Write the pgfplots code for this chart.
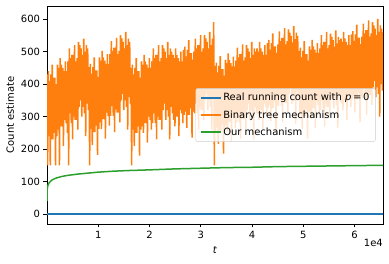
\documentclass[border=0pt]{standalone}
\usepackage{fontspec}
\setmainfont{DejaVu Sans}
\usepackage{pgfplots}
\pgfplotsset{compat=1.18}
\definecolor{tabblue}{HTML}{1F77B4}
\definecolor{taborange}{HTML}{FF7F0E}
\definecolor{tabgreen}{HTML}{2CA02C}
\begin{document}
\begin{tikzpicture}
\begin{axis}[
  scale only axis, width=336bp, height=218bp,
  xmin=0, xmax=65536, ymin=-30.5, ymax=640,
  scaled x ticks=false,
  xtick={10000,20000,30000,40000,50000,60000}, xticklabels={1,2,3,4,5,6},
  ytick={0,100,200,300,400,500,600},
  tick align=outside, tick pos=left, major tick length=3.5bp,
  /pgf/number format/assume math mode=true,
  ticklabel style={font=\fontsize{10}{12}\selectfont},
  label style={font=\fontsize{10}{12}\selectfont},
  xlabel={\textit{t}}, ylabel={Count estimate},
  xlabel style={yshift=-1bp},
  axis line style={line width=0.8bp},
  every tick/.style={black, line width=0.8bp},
  legend style={at={(rel axis cs:0.978,0.5)}, anchor=east, fill=white, fill opacity=0.8, text opacity=1, draw=black!20, rounded corners=2bp, font=\fontsize{10}{12}\selectfont, row sep=4bp, inner xsep=4bp, inner ysep=3bp},
  legend cell align=left,
  legend image code/.code={\draw[#1, line width=1.5bp] (0bp,0bp) -- (20bp,0bp);},
]
\addplot[tabblue, line width=1.5bp] coordinates {(0,0) (65536,0)};
\addlegendentry{Real running count with \textit{p}\,=\,0}
\addplot[taborange, line width=1.5bp] table[x expr=\coordindex*128, y index=0, header=false, row sep=\\]{
430\\150\\440\\240\\410\\150\\430\\230\\460\\230\\420\\250\\420\\150\\400\\240\\
460\\260\\450\\150\\480\\270\\460\\270\\450\\210\\440\\290\\470\\280\\440\\250\\
470\\150\\510\\310\\480\\280\\490\\230\\490\\300\\520\\290\\470\\290\\480\\260\\
530\\330\\520\\350\\510\\300\\490\\330\\540\\310\\500\\240\\520\\340\\510\\320\\
452\\150\\462\\262\\432\\212\\452\\252\\482\\252\\442\\272\\442\\182\\422\\262\\
482\\282\\472\\262\\502\\292\\482\\292\\472\\232\\462\\312\\492\\302\\462\\272\\
492\\302\\532\\332\\502\\302\\512\\252\\512\\322\\542\\312\\492\\312\\502\\282\\
550\\350\\540\\370\\530\\320\\510\\350\\560\\330\\520\\260\\540\\360\\530\\340\\
450\\150\\460\\260\\430\\210\\450\\250\\480\\250\\440\\270\\440\\180\\420\\260\\
470\\270\\460\\250\\490\\280\\470\\280\\460\\220\\450\\300\\480\\290\\450\\260\\
470\\280\\510\\310\\480\\280\\490\\230\\490\\300\\520\\290\\470\\290\\480\\260\\
520\\320\\510\\340\\500\\290\\480\\320\\530\\300\\490\\230\\510\\330\\500\\310\\
490\\290\\480\\270\\510\\300\\490\\300\\480\\240\\470\\320\\500\\310\\470\\280\\
505\\305\\515\\315\\485\\265\\505\\305\\535\\305\\495\\325\\495\\235\\475\\315\\
500\\310\\540\\340\\510\\310\\520\\260\\520\\330\\550\\320\\500\\320\\510\\290\\
550\\350\\540\\370\\530\\320\\510\\350\\560\\330\\520\\260\\540\\360\\590\\150\\
456\\256\\466\\266\\436\\216\\456\\256\\486\\256\\446\\276\\446\\186\\426\\266\\
474\\274\\464\\254\\494\\284\\474\\284\\464\\224\\454\\304\\484\\294\\454\\264\\
472\\282\\512\\312\\482\\282\\492\\232\\492\\302\\522\\292\\472\\292\\482\\262\\
520\\320\\510\\340\\500\\290\\480\\320\\530\\300\\490\\230\\510\\330\\500\\310\\
510\\310\\500\\290\\530\\320\\510\\320\\500\\260\\490\\340\\520\\330\\490\\300\\
526\\326\\536\\336\\506\\286\\526\\326\\556\\326\\516\\346\\516\\256\\496\\336\\
522\\332\\562\\362\\532\\332\\542\\282\\542\\352\\572\\342\\522\\342\\532\\312\\
568\\368\\558\\388\\548\\338\\528\\368\\578\\348\\538\\278\\558\\378\\548\\358\\
502\\302\\512\\312\\482\\262\\502\\302\\532\\302\\492\\322\\492\\232\\472\\312\\
516\\316\\506\\296\\536\\326\\516\\326\\506\\266\\496\\346\\526\\336\\496\\306\\
510\\320\\550\\350\\520\\320\\530\\270\\530\\340\\560\\330\\510\\330\\520\\300\\
555\\355\\545\\375\\535\\325\\515\\355\\565\\335\\525\\265\\545\\365\\535\\345\\
540\\340\\530\\320\\560\\350\\540\\350\\530\\290\\520\\370\\550\\360\\520\\330\\
553\\353\\563\\363\\533\\313\\553\\353\\583\\353\\543\\373\\543\\283\\523\\363\\
546\\356\\586\\386\\556\\356\\566\\306\\566\\376\\596\\366\\546\\366\\556\\336\\
590\\390\\580\\410\\570\\360\\550\\390\\600\\370\\560\\300\\580\\400\\570\\380\\
560\\
};
\addlegendentry{Binary tree mechanism}
\addplot[tabgreen, line width=1.5bp] coordinates {
(1,40) (5,55) (20,68) (50,76) (100,83) (200,89) (400,96) (700,101) (1000,105)
(1500,109) (2000,112) (3000,116) (4000,119) (6000,123) (8000,126) (10000,129)
(13000,132) (16000,134) (20000,136) (25000,139) (30000,141) (35000,143)
(40000,144) (45000,146) (50000,147) (55000,148) (60000,149) (65536,150)};
\addlegendentry{Our mechanism}
\coordinate (sw) at (rel axis cs:0,0);
\coordinate (ne) at (rel axis cs:1,1);
\end{axis}
\node[anchor=north east, inner sep=0pt, font=\fontsize{10}{12}\selectfont] at ([yshift=-15bp]sw -| ne) {1e4};
\pgfresetboundingbox
\path[use as bounding box] ([xshift=-47bp,yshift=-40bp]sw) rectangle ([xshift=6bp,yshift=6bp]ne);
\end{tikzpicture}
\end{document}
